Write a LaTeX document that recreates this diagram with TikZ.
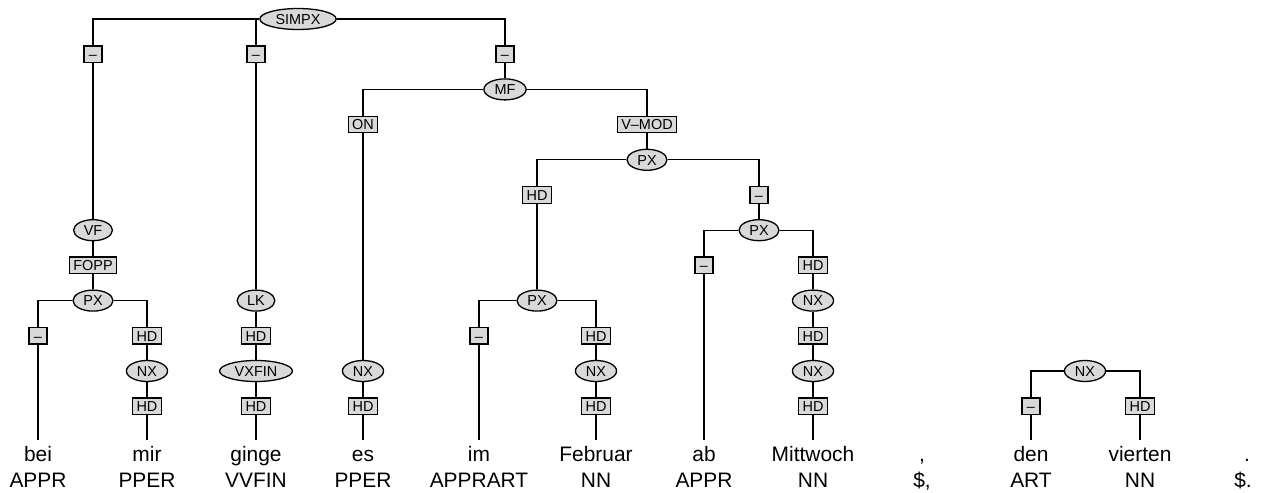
\documentclass[tikz,border=0pt]{standalone}
\usepackage{fontspec}
\setmainfont{Liberation Sans}
\usetikzlibrary{shapes.geometric}
\definecolor{fillg}{RGB}{217,217,217}
\newcommand{\labfont}{\fontsize{14.5}{17}\selectfont}
\newcommand{\wordfont}{\fontsize{21}{25}\selectfont}
\begin{document}
\begin{tikzpicture}[x=1bp,y=-1bp,
  cat/.style={ellipse, draw, fill=fillg, line width=1.3bp, inner xsep=4.5bp, inner ysep=0bp, minimum height=21bp, font=\labfont, text height=10.5bp, text depth=0bp},
  lab/.style={rectangle, draw, fill=fillg, line width=1.3bp, inner xsep=4bp, inner ysep=0bp, minimum height=16.5bp, minimum width=18bp, font=\labfont, text height=10.5bp, text depth=0bp},
  word/.style={anchor=base, inner sep=0pt, text height=21bp, text depth=0pt, font=\wordfont},
  tagtext/.style={anchor=base, inner sep=0pt, font=\wordfont},
  br/.style={line width=1.3bp}]
\useasboundingbox (0,0) rectangle (1261,493);
\def\La{19}\def\Lb{54.2}\def\Lc{89.4}\def\Ld{124.6}\def\Le{159.8}\def\Lf{195}
\def\Lg{230.2}\def\Lh{265.4}\def\Li{300.6}\def\Lj{335.8}\def\Lk{371}\def\Ll{406.2}
% words
\node[word] (w1) at (38,461) {bei};
\node[word] (w2) at (147,461) {mir};
\node[word] (w3) at (256,461) {ginge};
\node[word] (w4) at (363,461) {es};
\node[word] (w5) at (479,461) {im};
\node[word] (w6) at (596,461) {Februar};
\node[word] (w7) at (704,461) {ab};
\node[word] (w8) at (813,461) {Mittwoch};
\node[word] (w9) at (922,461) {,};
\node[word] (w10) at (1031,461) {den};
\node[word] (w11) at (1140,461) {vierten};
\node[word] (w12) at (1247,461) {.};
\node[tagtext] (p1) at (38,487) {APPR};
\node[tagtext] (p2) at (147,487) {PPER};
\node[tagtext] (p3) at (256,487) {VVFIN};
\node[tagtext] (p4) at (363,487) {PPER};
\node[tagtext] (p5) at (479,487) {APPRART};
\node[tagtext] (p6) at (596,487) {NN};
\node[tagtext] (p7) at (704,487) {APPR};
\node[tagtext] (p8) at (813,487) {NN};
\node[tagtext] (p9) at (922,487) {\$,};
\node[tagtext] (p10) at (1031,487) {ART};
\node[tagtext] (p11) at (1140,487) {NN};
\node[tagtext] (p12) at (1243,487) {\$.};
% SIMPX
\node[cat] (simpx) at (298,\La) {SIMPX};
\node[lab] (e1) at (93,\Lb) {--};
\node[lab] (e2) at (256,\Lb) {--};
\node[lab] (e3) at (505,\Lb) {--};
% VF branch
\node[cat] (vf) at (93,\Lg) {VF};
\node[lab] (fopp) at (93,\Lh) {FOPP};
\node[cat] (px1) at (93,\Li) {PX};
\node[lab] (e4) at (38,\Lj) {--};
\node[lab] (hd1) at (147,\Lj) {HD};
\node[cat] (nx1) at (147,\Lk) {NX};
\node[lab] (hd2) at (147,\Ll) {HD};
% LK branch
\node[cat] (lk) at (256,\Li) {LK};
\node[lab] (hd3) at (256,\Lj) {HD};
\node[cat] (vxfin) at (256,\Lk) {VXFIN};
\node[lab] (hd4) at (256,\Ll) {HD};
% MF branch
\node[cat] (mf) at (505,\Lc) {MF};
\node[lab] (on) at (363,\Ld) {ON};
\node[cat] (nx2) at (363,\Lk) {NX};
\node[lab] (hd5) at (363,\Ll) {HD};
\node[lab] (vmod) at (647,\Ld) {V--MOD};
\node[cat] (px2) at (647,\Le) {PX};
\node[lab] (hd6) at (537,\Lf) {HD};
\node[cat] (px3) at (537,\Li) {PX};
\node[lab] (e5) at (479,\Lj) {--};
\node[lab] (hd7) at (596,\Lj) {HD};
\node[cat] (nx3) at (596,\Lk) {NX};
\node[lab] (hd8) at (596,\Ll) {HD};
\node[lab] (e6) at (759,\Lf) {--};
\node[cat] (px4) at (759,\Lg) {PX};
\node[lab] (e7) at (704,\Lh) {--};
\node[lab] (hd9) at (813,\Lh) {HD};
\node[cat] (nx4) at (813,\Li) {NX};
\node[lab] (hd10) at (813,\Lj) {HD};
\node[cat] (nx5) at (813,\Lk) {NX};
\node[lab] (hd11) at (813,\Ll) {HD};
% NX den vierten
\node[cat] (nx6) at (1085,\Lk) {NX};
\node[lab] (e8) at (1031,\Ll) {--};
\node[lab] (hd12) at (1140,\Ll) {HD};
% connectors
\draw[br] (simpx.west) -| (e1.north);
\draw[br] (simpx.west) -| (e2.north);
\draw[br] (simpx.east) -| (e3.north);
\draw[br] (e1.south) -- (vf.north);
\draw[br] (vf.south) -- (fopp.north);
\draw[br] (fopp.south) -- (px1.north);
\draw[br] (px1.west) -| (e4.north);
\draw[br] (px1.east) -| (hd1.north);
\draw[br] (e4.south) -- (w1.north);
\draw[br] (hd1.south) -- (nx1.north);
\draw[br] (nx1.south) -- (hd2.north);
\draw[br] (hd2.south) -- (w2.north);
\draw[br] (e2.south) -- (lk.north);
\draw[br] (lk.south) -- (hd3.north);
\draw[br] (hd3.south) -- (vxfin.north);
\draw[br] (vxfin.south) -- (hd4.north);
\draw[br] (hd4.south) -- (w3.north);
\draw[br] (e3.south) -- (mf.north);
\draw[br] (mf.west) -| (on.north);
\draw[br] (on.south) -- (nx2.north);
\draw[br] (nx2.south) -- (hd5.north);
\draw[br] (hd5.south) -- (w4.north);
\draw[br] (mf.east) -| (vmod.north);
\draw[br] (vmod.south) -- (px2.north);
\draw[br] (px2.west) -| (hd6.north);
\draw[br] (hd6.south) -- (px3.north);
\draw[br] (px3.west) -| (e5.north);
\draw[br] (e5.south) -- (w5.north);
\draw[br] (px3.east) -| (hd7.north);
\draw[br] (hd7.south) -- (nx3.north);
\draw[br] (nx3.south) -- (hd8.north);
\draw[br] (hd8.south) -- (w6.north);
\draw[br] (px2.east) -| (e6.north);
\draw[br] (e6.south) -- (px4.north);
\draw[br] (px4.west) -| (e7.north);
\draw[br] (e7.south) -- (w7.north);
\draw[br] (px4.east) -| (hd9.north);
\draw[br] (hd9.south) -- (nx4.north);
\draw[br] (nx4.south) -- (hd10.north);
\draw[br] (hd10.south) -- (nx5.north);
\draw[br] (nx5.south) -- (hd11.north);
\draw[br] (hd11.south) -- (w8.north);
\draw[br] (nx6.west) -| (e8.north);
\draw[br] (nx6.east) -| (hd12.north);
\draw[br] (e8.south) -- (w10.north);
\draw[br] (hd12.south) -- (w11.north);
\end{tikzpicture}
\end{document}
